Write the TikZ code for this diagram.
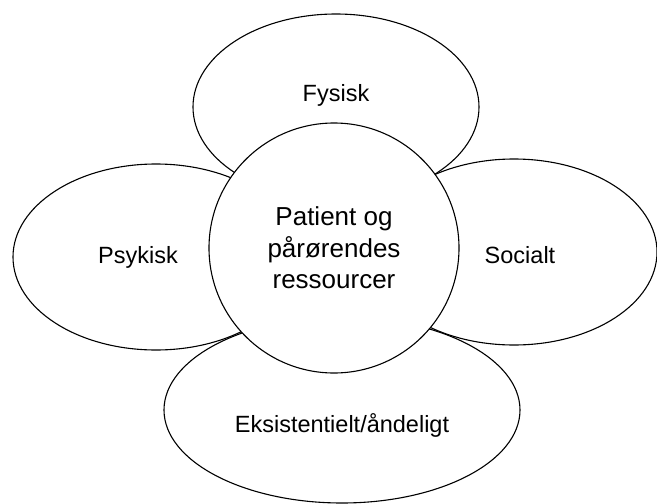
\documentclass[tikz,border=0pt]{standalone}
\usepackage{fontspec}
\setmainfont{Liberation Sans}
\usetikzlibrary{shapes.geometric}
\tikzset{
    petal/.style = {
        draw,
        shape=ellipse,
        fill=white,
        minimum width=286pt,
        minimum height=186pt,
        inner sep=0pt,
        line width=1.1pt
    },
    core/.style = {
        draw,
        shape=circle,
        fill=white,
        minimum size=250pt,
        align=center,
        line width=1.1pt,
        font=\fontsize{26}{31.5}\selectfont
    },
    petaltext/.style = {
        font=\fontsize{23.5}{28}\selectfont
    },
}

\begin{document}
\begin{tikzpicture}[x=1pt,y=-1pt]
        \useasboundingbox (0,0) rectangle (657,504);

        \node[petal, label={[petaltext,yshift=12pt]center:Fysisk}] (fysisk) at (336,107) {};
        \node[petal, label={[petaltext,xshift=-18pt]center:Psykisk}] (psykisk) at (156,257) {};
        \node[petal, label={[petaltext,xshift=6pt,yshift=-3pt]center:Socialt}] (socialt) at (514,252) {};
        \node[petal, minimum width=356pt,
              label={[petaltext,yshift=-15pt]center:Eksistentielt/åndeligt}] (eksistentielt) at (342,410) {};

        \node[core] (ressourcer) at (334,248) {Patient og\\pårørendes\\ressourcer};
    \end{tikzpicture}
\end{document}
